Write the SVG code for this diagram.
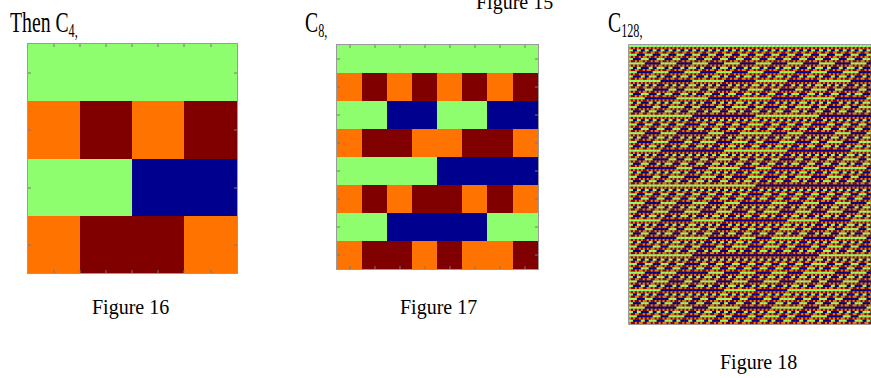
<svg xmlns="http://www.w3.org/2000/svg" width="871" height="378" viewBox="0 0 871 378">
<style>
.g{fill:#8ffe6e}.o{fill:#ff7300}.m{fill:#800000}.b{fill:#00008f}
.lbl{font-family:"Liberation Serif","Times New Roman",serif;font-size:29px;fill:#000}
.sub{font-size:18px}
.cap{font-family:"Liberation Serif","Times New Roman",serif;font-size:20px;fill:#000}
.frame{fill:none;stroke:#9a9a9a;stroke-width:1}
.tick{stroke:#7a7a7a;stroke-width:1}
</style>
<defs>
<filter id="soft" x="-2%" y="-2%" width="104%" height="104%"><feGaussianBlur stdDeviation="0.7"/></filter>
<clipPath id="clip18"><rect x="629" y="45" width="242" height="279"/></clipPath>
<g id="P2"><rect class="g" x="0" y="0" width="2" height="1"/><rect class="o" x="0" y="1" width="1" height="1"/><rect class="m" x="1" y="1" width="1" height="1"/></g>
<g id="N2"><rect class="b" x="0" y="0" width="2" height="1"/><rect class="m" x="0" y="1" width="1" height="1"/><rect class="o" x="1" y="1" width="1" height="1"/></g>
<g id="P4"><use href="#P2"/><use href="#P2" x="2"/><use href="#P2" y="2"/><use href="#N2" x="2" y="2"/></g>
<g id="N4"><use href="#N2"/><use href="#N2" x="2"/><use href="#N2" y="2"/><use href="#P2" x="2" y="2"/></g>
<g id="P8"><use href="#P4"/><use href="#P4" x="4"/><use href="#P4" y="4"/><use href="#N4" x="4" y="4"/></g>
<g id="N8"><use href="#N4"/><use href="#N4" x="4"/><use href="#N4" y="4"/><use href="#P4" x="4" y="4"/></g>
<g id="P16"><use href="#P8"/><use href="#P8" x="8"/><use href="#P8" y="8"/><use href="#N8" x="8" y="8"/></g>
<g id="N16"><use href="#N8"/><use href="#N8" x="8"/><use href="#N8" y="8"/><use href="#P8" x="8" y="8"/></g>
<g id="P32"><use href="#P16"/><use href="#P16" x="16"/><use href="#P16" y="16"/><use href="#N16" x="16" y="16"/></g>
<g id="N32"><use href="#N16"/><use href="#N16" x="16"/><use href="#N16" y="16"/><use href="#P16" x="16" y="16"/></g>
<g id="P64"><use href="#P32"/><use href="#P32" x="32"/><use href="#P32" y="32"/><use href="#N32" x="32" y="32"/></g>
<g id="N64"><use href="#N32"/><use href="#N32" x="32"/><use href="#N32" y="32"/><use href="#P32" x="32" y="32"/></g>
<g id="P128"><use href="#P64"/><use href="#P64" x="64"/><use href="#P64" y="64"/><use href="#N64" x="64" y="64"/></g>
</defs>
<rect width="871" height="378" fill="#fff"/>

<g id="labels">
<text class="cap" x="476" y="9">Figure 15</text>
<text class="lbl" transform="translate(10,32) scale(0.68,1)">Then C<tspan class="sub" dy="5">4,</tspan></text>
<text class="lbl" transform="translate(305,32) scale(0.68,1)">C<tspan class="sub" dy="5">8,</tspan></text>
<text class="lbl" transform="translate(608,32) scale(0.68,1)">C<tspan class="sub" dy="5">128,</tspan></text>
<text class="cap" x="92" y="314">Figure 16</text>
<text class="cap" x="400" y="314">Figure 17</text>
<text class="cap" x="720" y="369">Figure 18</text>
</g>

<g id="fig16">
<rect class="g" x="28" y="44" width="209" height="57"/>
<rect class="o" x="28" y="101" width="52" height="58"/><rect class="m" x="80" y="101" width="52" height="58"/><rect class="o" x="132" y="101" width="52" height="58"/><rect class="m" x="184" y="101" width="53" height="58"/>
<rect class="g" x="28" y="159" width="104" height="57"/><rect class="b" x="132" y="159" width="105" height="57"/>
<rect class="o" x="28" y="216" width="52" height="57"/><rect class="m" x="80" y="216" width="104" height="57"/><rect class="o" x="184" y="216" width="53" height="57"/>
<rect class="frame" x="27.5" y="43.5" width="210" height="230"/>
<path class="tick" d="M54 44v3M80 44v3M106 44v3M132 44v3M158 44v3M184 44v3M211 44v3M54 273v-3M80 273v-3M106 273v-3M132 273v-3M158 273v-3M184 273v-3M211 273v-3M28 73h3M28 130h3M28 188h3M28 245h3M237 73h-3M237 130h-3M237 188h-3M237 245h-3"/>
</g>

<g id="fig17">
<rect class="g" x="337" y="45" width="201" height="28"/>
<rect class="o" x="337" y="73" width="25" height="28"/><rect class="m" x="362" y="73" width="25" height="28"/><rect class="o" x="387" y="73" width="25" height="28"/><rect class="m" x="412" y="73" width="25" height="28"/><rect class="o" x="437" y="73" width="25" height="28"/><rect class="m" x="462" y="73" width="25" height="28"/><rect class="o" x="487" y="73" width="26" height="28"/><rect class="m" x="513" y="73" width="25" height="28"/>
<rect class="g" x="337" y="101" width="50" height="28"/><rect class="b" x="387" y="101" width="50" height="28"/><rect class="g" x="437" y="101" width="50" height="28"/><rect class="b" x="487" y="101" width="51" height="28"/>
<rect class="o" x="337" y="129" width="25" height="28"/><rect class="m" x="362" y="129" width="50" height="28"/><rect class="o" x="412" y="129" width="50" height="28"/><rect class="m" x="462" y="129" width="51" height="28"/><rect class="o" x="513" y="129" width="25" height="28"/>
<rect class="g" x="337" y="157" width="100" height="28"/><rect class="b" x="437" y="157" width="101" height="28"/>
<rect class="o" x="337" y="185" width="25" height="28"/><rect class="m" x="362" y="185" width="25" height="28"/><rect class="o" x="387" y="185" width="25" height="28"/><rect class="m" x="412" y="185" width="50" height="28"/><rect class="o" x="462" y="185" width="25" height="28"/><rect class="m" x="487" y="185" width="26" height="28"/><rect class="o" x="513" y="185" width="25" height="28"/>
<rect class="g" x="337" y="213" width="50" height="28"/><rect class="b" x="387" y="213" width="100" height="28"/><rect class="g" x="487" y="213" width="51" height="28"/>
<rect class="o" x="337" y="241" width="25" height="28"/><rect class="m" x="362" y="241" width="50" height="28"/><rect class="o" x="412" y="241" width="25" height="28"/><rect class="m" x="437" y="241" width="25" height="28"/><rect class="o" x="462" y="241" width="51" height="28"/><rect class="m" x="513" y="241" width="25" height="28"/>
<rect class="frame" x="336.5" y="44.5" width="202" height="225"/>
<path class="tick" d="M350 45v3M375 45v3M400 45v3M425 45v3M450 45v3M475 45v3M500 45v3M525 45v3M350 269v-3M375 269v-3M400 269v-3M425 269v-3M450 269v-3M475 269v-3M500 269v-3M525 269v-3M337 59h3M337 87h3M337 115h3M337 143h3M337 171h3M337 199h3M337 227h3M337 255h3M538 59h-3M538 87h-3M538 115h-3M538 143h-3M538 171h-3M538 199h-3M538 227h-3M538 255h-3"/>
</g>

<g id="fig18">
<g clip-path="url(#clip18)">
<g filter="url(#soft)">
<rect x="626" y="42" width="250" height="285" fill="#84603f"/>
<use href="#P128" transform="translate(629,45) scale(1.98,2.18)"/>
</g>
</g>
<path class="frame" d="M871 44.5H628.5V324.5H871"/>
</g>
</svg>
